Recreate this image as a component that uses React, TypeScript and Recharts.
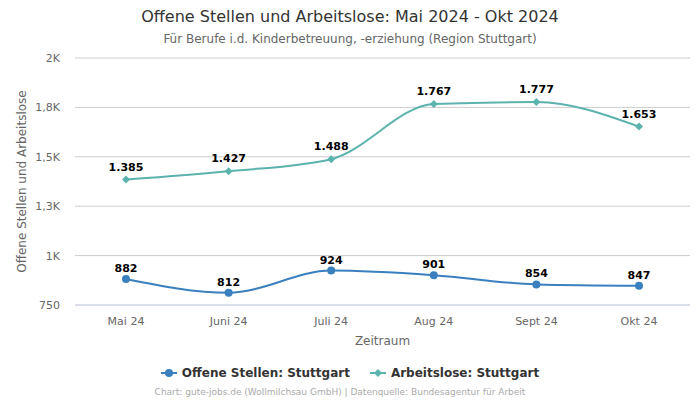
import { LineChart, Line, XAxis, YAxis, CartesianGrid, LabelList } from 'recharts'

const months = ['Mai 24', 'Juni 24', 'Juli 24', 'Aug 24', 'Sept 24', 'Okt 24']
const offeneStellen = [882, 812, 924, 901, 854, 847]
const arbeitslose = [1385, 1427, 1488, 1767, 1777, 1653]
const yTicks = [750, 1000, 1250, 1500, 1750, 2000]

const data = months.map((m, i) => ({ month: m, offen: offeneStellen[i], arbeitslos: arbeitslose[i] }))

const font = 'DejaVu Sans, sans-serif'
const BLUE = '#3a7fbe'
const TEAL = '#5cb3ad'

const fmtY = (v: number) => {
  if (v < 1000) return String(v)
  const k = Math.round(v / 100) / 10
  return k.toString().replace('.', ',') + 'K'
}
const fmtNum = (v: any) => Number(v).toLocaleString('de-DE')

const Diamond = (props: any) => {
  const { cx, cy } = props
  if (cx == null || cy == null) return null
  const s = 4
  return <path d={`M${cx},${cy - s}L${cx + s},${cy}L${cx},${cy + s}L${cx - s},${cy}Z`} fill={TEAL} />
}

const YLabel = (props: any) => {
  const vb = props.viewBox || {}
  const cy = (vb.y ?? 58) + (vb.height ?? 247) / 2
  return (
    <text x={22} y={cy} transform={`rotate(-90, 22, ${cy})`} textAnchor="middle" dominantBaseline="central" fill="#666" fontSize={12} fontFamily={font}>
      Offene Stellen und Arbeitslose
    </text>
  )
}

const legendItems = [
  { name: 'Offene Stellen: Stuttgart', color: BLUE, shape: 'circle' },
  { name: 'Arbeitslose: Stuttgart', color: TEAL, shape: 'diamond' },
]

export default function App() {
  return (
    <div style={{ position: 'absolute', left: 0, top: 0, width: 700, height: 400, fontFamily: font, background: '#fff' }}>
      <div style={{ position: 'absolute', top: 7, width: 700, textAlign: 'center', fontSize: 16, color: '#333' }}>
        Offene Stellen und Arbeitslose: Mai 2024 - Okt 2024
      </div>
      <div style={{ position: 'absolute', top: 32, width: 700, textAlign: 'center', fontSize: 12, color: '#666' }}>
        Für Berufe i.d. Kinderbetreuung, -erziehung (Region Stuttgart)
      </div>
      <LineChart width={700} height={400} data={data} margin={{ top: 58, right: 10, bottom: 65, left: 0 }}>
        <CartesianGrid vertical={false} stroke="#ccc" />
        <XAxis
          dataKey="month"
          height={30}
          padding={{ left: 51, right: 51 }}
          tickLine={false}
          stroke="#ccd6eb"
          tick={{ fill: '#666', fontSize: 11, fontFamily: font }}
          tickMargin={6}
          label={{ value: 'Zeitraum', position: 'insideBottom', offset: -10, fill: '#666', fontSize: 12, fontFamily: font }}
        />
        <YAxis
          width={75}
          domain={[750, 2000]}
          ticks={yTicks}
          tickFormatter={fmtY}
          axisLine={false}
          tickLine={false}
          tickMargin={9}
          tick={{ fill: '#666', fontSize: 11, fontFamily: font }}
          label={<YLabel />}
        />
        <Line
          name="Offene Stellen: Stuttgart"
          type="monotone"
          dataKey="offen"
          stroke={BLUE}
          strokeWidth={2}
          dot={{ r: 4, fill: BLUE, stroke: BLUE, strokeWidth: 0 }}
          isAnimationActive={false}
        >
          <LabelList dataKey="offen" position="top" offset={7} formatter={fmtNum} style={{ fill: '#000', fontSize: 11, fontWeight: 'bold', fontFamily: font }} />
        </Line>
        <Line
          name="Arbeitslose: Stuttgart"
          type="monotone"
          dataKey="arbeitslos"
          stroke={TEAL}
          strokeWidth={2}
          dot={<Diamond />}
          isAnimationActive={false}
        >
          <LabelList dataKey="arbeitslos" position="top" offset={9} formatter={fmtNum} style={{ fill: '#000', fontSize: 11, fontWeight: 'bold', fontFamily: font }} />
        </Line>
      </LineChart>
      <div style={{ position: 'absolute', top: 366, width: 700, display: 'flex', justifyContent: 'center', gap: 20, fontSize: 12, fontWeight: 'bold', color: '#333' }}>
        {legendItems.map((it) => (
          <div key={it.name} style={{ display: 'flex', alignItems: 'center', gap: 5 }}>
            <svg width={16} height={10}>
              <line x1={0} y1={5} x2={16} y2={5} stroke={it.color} strokeWidth={2} />
              {it.shape === 'circle' ? (
                <circle cx={8} cy={5} r={4} fill={it.color} />
              ) : (
                <path d="M8,1L12,5L8,9L4,5Z" fill={it.color} />
              )}
            </svg>
            <span>{it.name}</span>
          </div>
        ))}
      </div>
      <div style={{ position: 'absolute', top: 387, left: 0, width: 680, textAlign: 'center', fontSize: 9, color: '#aaa' }}>
        Chart: gute-jobs.de (Wollmilchsau GmbH) | Datenquelle: Bundesagentur für Arbeit
      </div>
    </div>
  )
}
